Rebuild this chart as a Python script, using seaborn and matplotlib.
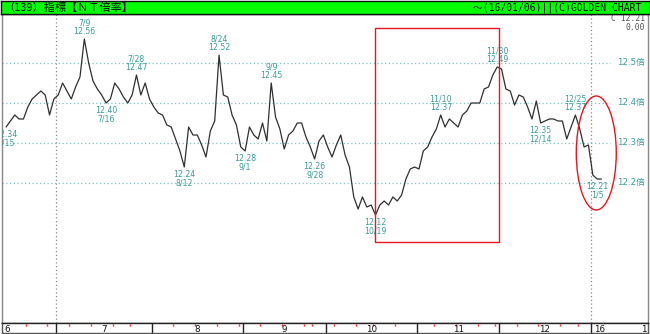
import numpy as np
import pandas as pd
import matplotlib
matplotlib.use("Agg")
import matplotlib.pyplot as plt
import seaborn as sns
from matplotlib.patches import Rectangle, Ellipse
from matplotlib.transforms import blended_transform_factory

# ---------------- data ----------------
holidays = ["2015-07-20", "2015-09-21", "2015-09-22", "2015-09-23", "2015-10-12",
            "2015-11-03", "2015-11-23", "2015-12-23", "2015-12-31", "2016-01-01"]
start_date = "2015-06-15"
end_date = "2016-01-06"

nt_ratio = [
    12.34, 12.355, 12.37, 12.36, 12.36, 12.39, 12.41, 12.42, 12.43, 12.42,
    12.37, 12.41, 12.42, 12.45, 12.43, 12.41, 12.44, 12.465, 12.56, 12.50,
    12.455, 12.435, 12.42, 12.40, 12.41, 12.45, 12.435, 12.415, 12.40, 12.42,
    12.47, 12.42, 12.45, 12.41, 12.39, 12.375, 12.37, 12.345, 12.34, 12.31,
    12.28, 12.24, 12.34, 12.32, 12.32, 12.295, 12.265, 12.33, 12.355, 12.52,
    12.42, 12.415, 12.37, 12.345, 12.29, 12.28, 12.34, 12.32, 12.31, 12.35,
    12.305, 12.45, 12.365, 12.335, 12.285, 12.32, 12.33, 12.35, 12.35, 12.315,
    12.29, 12.26, 12.305, 12.32, 12.29, 12.265, 12.295, 12.32, 12.27, 12.24,
    12.165, 12.135, 12.165, 12.14, 12.145, 12.12, 12.145, 12.155, 12.145, 12.165,
    12.155, 12.17, 12.21, 12.235, 12.24, 12.235, 12.28, 12.29, 12.315, 12.335,
    12.37, 12.34, 12.36, 12.35, 12.34, 12.37, 12.38, 12.40, 12.40, 12.40,
    12.435, 12.44, 12.47, 12.49, 12.485, 12.435, 12.43, 12.395, 12.42, 12.415,
    12.39, 12.36, 12.405, 12.35, 12.355, 12.36, 12.36, 12.355, 12.355, 12.31,
    12.34, 12.37, 12.335, 12.29, 12.295, 12.22, 12.21, 12.21,
]

# annotated extremes: (date, value, kind)
ann_dates = ["2015-06-15", "2015-07-09", "2015-07-16", "2015-07-28", "2015-08-12",
             "2015-08-24", "2015-09-01", "2015-09-09", "2015-09-28", "2015-10-19",
             "2015-11-10", "2015-11-30", "2015-12-14", "2015-12-25", "2016-01-05"]
ann_values = [12.34, 12.56, 12.40, 12.47, 12.24, 12.52, 12.28, 12.45, 12.26, 12.12,
              12.37, 12.49, 12.35, 12.37, 12.21]
ann_kind = ["low", "high", "low", "high", "low", "high", "low", "high", "low", "low",
            "high", "high", "low", "high", "low"]

y_ticks = [12.2, 12.3, 12.4, 12.5]
y_tick_labels = ["12.2倍", "12.3倍", "12.4倍", "12.5倍"]
month_labels = ["7", "8", "9", "10", "11", "12"]
title_left = "（139）指標【ＮＴ倍率】"
title_right = "～(16/01/06)||(C)GOLDEN CHART"
close_text = ["C 12.21", "0.00"]

box_dates = ["2015-10-19", "2015-11-30"]
box_values = [12.0525, 12.5875]
ellipse_date = "2016-01-05"
ellipse_values = [12.1325, 12.4175]

# ---------------- derived ----------------
dates = pd.bdate_range(start_date, end_date)
dates = dates[~dates.isin(pd.to_datetime(holidays))]
idx = np.arange(len(dates))
df = pd.DataFrame({"i": idx, "v": nt_ratio})

def pos(d):
    return int(np.where(dates == pd.Timestamp(d))[0][0])

month_start = [i for i in range(1, len(dates)) if dates[i].month != dates[i - 1].month]
week_start = [i for i in range(1, len(dates))
              if dates[i].isocalendar()[1] != dates[i - 1].isocalendar()[1] and i not in month_start]

# ---------------- figure ----------------
sns.set_style("white")
plt.rcParams["font.family"] = ["DejaVu Sans", "Noto Sans CJK JP"]

W, H = 650, 334
fig = plt.figure(figsize=(W / 100, H / 100), dpi=100)
fig.patch.set_facecolor("white")

def fr(x0, y0, x1, y1):
    return [x0 / W, 1 - y1 / H, (x1 - x0) / W, (y1 - y0) / H]

ax = fig.add_axes(fr(2, 14, 648, 323))
strip = fig.add_axes(fr(2, 323, 648, 333))
bar = fig.add_axes(fr(0.5, 0.5, 649.5, 14))

xlim = (-0.94, 147.7)
ax.set_xlim(*xlim)
ax.set_ylim(11.85, 12.6225)
ax.set_xticks([])
ax.set_yticks([])
for s in ["left", "right"]:
    ax.spines[s].set_color("#888888")
    ax.spines[s].set_linewidth(1)
for s in ["top", "bottom"]:
    ax.spines[s].set_color("#222222")
    ax.spines[s].set_linewidth(1)

teal = "#3a9c9c"
grid_c = "#7cc4c4"
for yv in y_ticks:
    ax.axhline(yv, xmin=0, xmax=0.941, color=grid_c, lw=0.9, ls=(0, (1, 2)), zorder=1)
trans = blended_transform_factory(ax.transAxes, ax.transData)
for yv, lab in zip(y_ticks, y_tick_labels):
    ax.text(0.952, yv, lab, transform=trans, ha="left", va="center",
            fontsize=6.2, color=teal, family=["DejaVu Sans", "Noto Sans CJK JP"])

for i in [month_start[0], month_start[-1]]:
    ax.axvline(i - 0.5, color="#8a8a8a", lw=0.9, ls=(0, (1, 2)), zorder=1)

sns.lineplot(data=df, x="i", y="v", ax=ax, color="#303030", linewidth=0.9, zorder=3)
ax.set_xlabel("")
ax.set_ylabel("")

for d, v, k in zip(ann_dates, ann_values, ann_kind):
    ts = pd.Timestamp(d)
    dl = f"{ts.month}/{ts.day}"
    vl = f"{v:.2f}"
    if k == "high":
        ax.annotate(f"{dl}\n{vl}", (pos(d), v), xytext=(0, 2), textcoords="offset points",
                    ha="center", va="bottom", fontsize=5.6, color=teal, linespacing=0.95,
                    annotation_clip=False, clip_on=True, zorder=4)
    else:
        ax.annotate(f"{vl}\n{dl}", (pos(d), v), xytext=(0, -2), textcoords="offset points",
                    ha="center", va="top", fontsize=5.6, color=teal, linespacing=0.95,
                    annotation_clip=False, clip_on=True, zorder=4)

ax.text(0.995, 0.984, close_text[0], transform=ax.transAxes, ha="right", va="center",
        fontsize=5.8, color="#555555", family="DejaVu Sans Mono")
ax.text(0.995, 0.955, close_text[1], transform=ax.transAxes, ha="right", va="center",
        fontsize=5.8, color="#555555", family="DejaVu Sans Mono")

x0, x1 = pos(box_dates[0]) - 0.1, pos(box_dates[1]) + 0.4
ax.add_patch(Rectangle((x0, box_values[0]), x1 - x0, box_values[1] - box_values[0],
                       fill=False, edgecolor="#e8141e", lw=1.0, zorder=5))
ec = pos(ellipse_date) - 0.2
ax.add_patch(Ellipse((ec, sum(ellipse_values) / 2), 9.2, ellipse_values[1] - ellipse_values[0],
                     fill=False, edgecolor="#e8141e", lw=1.0, zorder=5))

# ---------------- bottom strip ----------------
strip.set_xlim(*xlim)
strip.set_ylim(0, 1)
strip.set_xticks([])
strip.set_yticks([])
for s in strip.spines.values():
    s.set_color("#555555")
    s.set_linewidth(1)
strip.spines["top"].set_color("#222222")
strip.vlines([i - 0.5 for i in month_start], 0, 1, color="#222222", lw=1)
strip.vlines([i - 0.5 for i in week_start], 0.7, 0.92, color="#ff2020", lw=1)
bounds = month_start
for k, lab in enumerate(month_labels):
    mid = (bounds[k] + bounds[k + 1]) / 2 - 0.5
    strip.text(mid, 0.4, lab, ha="center", va="center", fontsize=6.3, color="#111111")
strip.text(-0.3, 0.4, "6", ha="left", va="center", fontsize=6.3, color="#111111")
strip.text(month_start[-1] + 0.3, 0.4, "16", ha="left", va="center", fontsize=6.3, color="#111111")
strip.text(0.997, 0.4, "1", transform=strip.transAxes, ha="right", va="center",
           fontsize=6.3, color="#111111")

# ---------------- title bar ----------------
bar.set_facecolor("#00ff00")
bar.set_xticks([])
bar.set_yticks([])
for s in bar.spines.values():
    s.set_color("#111111")
    s.set_linewidth(1)
bar.text(0.004, 0.45, title_left, transform=bar.transAxes, ha="left", va="center",
         fontsize=8, color="black", family=["Noto Sans CJK JP"])
bar.text(0.987, 0.45, title_right, transform=bar.transAxes, ha="right", va="center",
         fontsize=7, color="black", family=["DejaVu Sans Mono", "Noto Sans CJK JP"])

fig.savefig("out.png", dpi=100)
